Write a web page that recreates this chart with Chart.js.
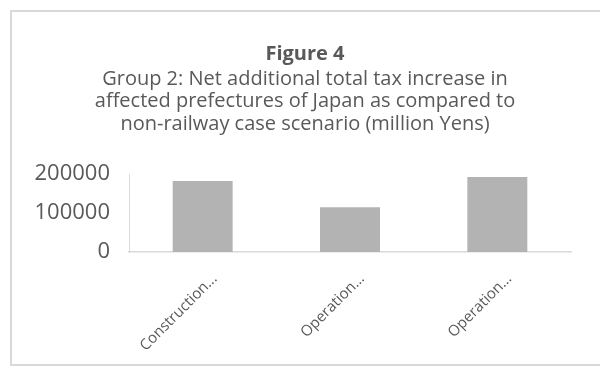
<!DOCTYPE html>
<html>
<head>
<meta charset="utf-8">
<script src="https://cdn.jsdelivr.net/npm/chart.js@4.4.0/dist/chart.umd.min.js"></script>
<style>
    html, body { margin: 0; padding: 0; background: #ffffff; }
    #wrap { position: relative; width: 600px; height: 366px; overflow: hidden; }
    #frame {
        position: absolute; left: 10px; top: 10px;
        width: 620px; height: 352px;
        border: 2px solid #d9d9d9;
    }
    #chart { position: absolute; left: 0; top: 0; }
</style>
</head>
<body>
<div id="wrap">
    <div id="frame"></div>
    <canvas id="chart" width="600" height="366"></canvas>
</div>
<script>
// Category labels as they appear under the axis
const categories = ['Construction...', 'Operation...', 'Operation...'];

// Net additional total tax increase (million Yens)
const taxIncrease = [182000, 115000, 192000];

// Y axis tick values
const yTicks = [0, 100000, 200000];

const titleText = 'Figure 4';
const subtitleLines = [
    'Group 2: Net additional total tax increase in',
    'affected prefectures of Japan as compared to',
    'non-railway case scenario (million Yens)'
];

const textColor = '#595959';
const axisColor = '#d9d9d9';
const barColor = '#b3b3b3';

// centre title + subtitle over the whole frame instead of the padded box
const centerTitles = {
    id: 'centerTitles',
    afterLayout(chart) {
        chart.boxes.forEach(box => {
            if (box.options && box.options.text !== undefined && box.isHorizontal()) {
                box.left = 10;
                box.right = 600;
                box.width = 590;
            }
        });
    }
};

const ctx = document.getElementById('chart').getContext('2d');

new Chart(ctx, {
    type: 'bar',
    data: {
        labels: categories,
        datasets: [{
            label: 'Tax increase',
            data: taxIncrease,
            backgroundColor: barColor,
            barPercentage: 0.407,
            categoryPercentage: 1.0
        }]
    },
    options: {
        responsive: false,
        animation: false,
        layout: { padding: { left: 0, right: 29, top: 0, bottom: 0 } },
        plugins: {
            legend: { display: false },
            tooltip: { enabled: false },
            title: {
                display: true,
                text: titleText,
                color: textColor,
                font: { family: 'Open Sans', size: 20, weight: 'bold', lineHeight: 1.125 },
                padding: { top: 43, bottom: 0 }
            },
            subtitle: {
                display: true,
                text: subtitleLines,
                color: textColor,
                font: { family: 'Open Sans', size: 20, weight: 'normal', lineHeight: 1.125 },
                padding: { top: 2.5, bottom: 38.5 }
            }
        },
        scales: {
            x: {
                grid: { display: false, drawTicks: false },
                border: { display: true, color: axisColor, width: 1.5 },
                ticks: {
                    color: textColor,
                    font: { family: 'Open Sans', size: 15 },
                    minRotation: 45,
                    maxRotation: 45,
                    autoSkip: false,
                    padding: 18,
                    labelOffset: 12
                },
                afterFit: scale => { scale.height = 114; }
            },
            y: {
                min: 0,
                max: 200000,
                afterBuildTicks: scale => {
                    scale.ticks = yTicks.map(v => ({ value: v }));
                },
                grid: { display: false, drawTicks: false },
                border: { display: true, color: axisColor, width: 1 },
                ticks: {
                    color: textColor,
                    font: { family: 'Open Sans', size: 22 },
                    padding: 19,
                    callback: value => String(value)
                },
                afterFit: scale => { scale.width = 129; }
            }
        }
    },
    plugins: [centerTitles]
});
</script>
</body>
</html>
